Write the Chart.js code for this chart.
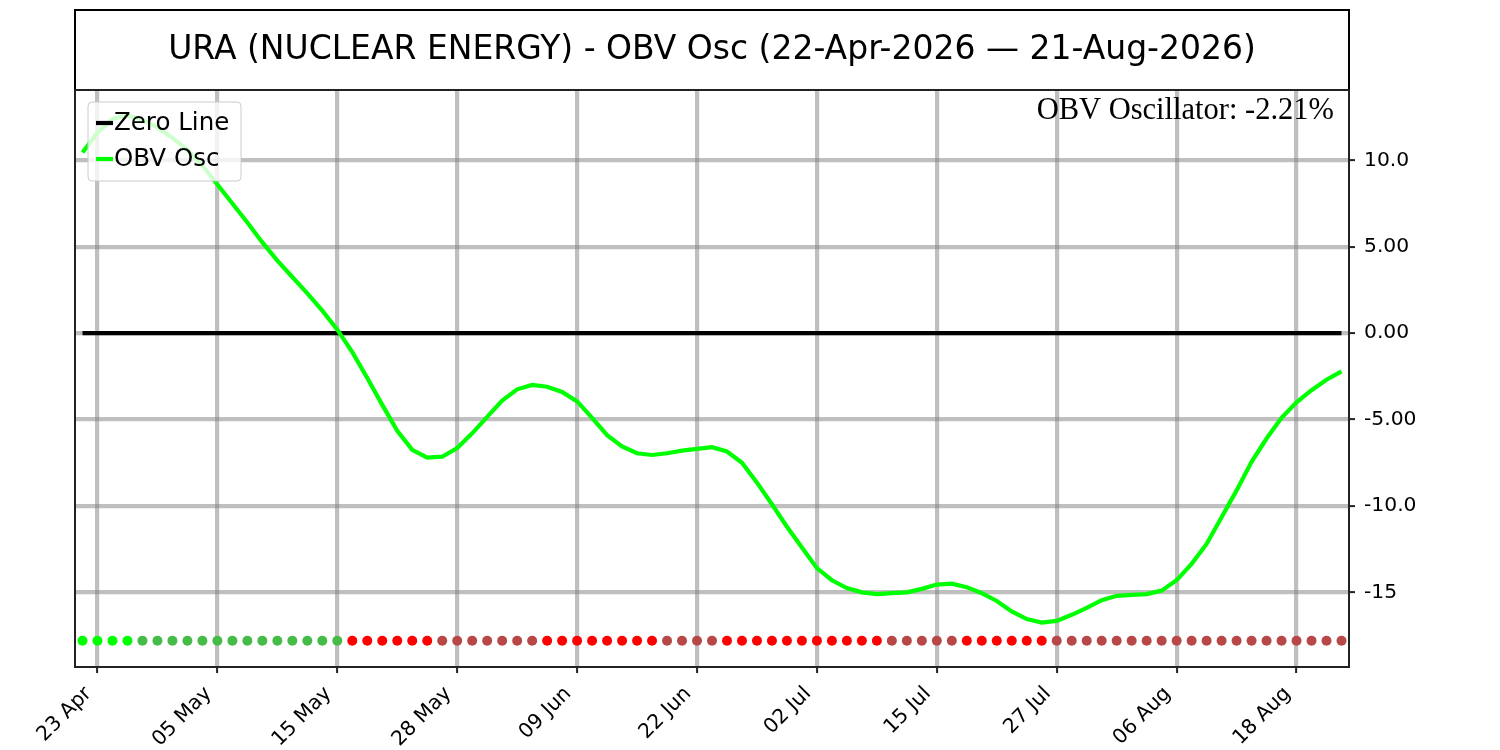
<!DOCTYPE html>
<html>
<head>
<meta charset="utf-8">
<script src="https://cdn.jsdelivr.net/npm/chart.js@4.4.1/dist/chart.umd.min.js"></script>
<style>
  html, body { margin: 0; padding: 0; background: #fff; }
  canvas { display: block; }
</style>
</head>
<body>
<canvas id="obvChart" width="1500" height="750"></canvas>
<script>
// trading days 22-Apr-2026 .. 21-Aug-2026
const dates = [
  "22 Apr", "23 Apr", "24 Apr", "27 Apr", "28 Apr", "29 Apr", "30 Apr",
  "01 May", "04 May", "05 May", "06 May", "07 May", "08 May", "11 May", "12 May", "13 May", "14 May",
  "15 May", "18 May", "19 May", "20 May", "21 May", "22 May", "26 May", "27 May", "28 May", "29 May",
  "01 Jun", "02 Jun", "03 Jun", "04 Jun", "05 Jun", "08 Jun", "09 Jun", "10 Jun", "11 Jun", "12 Jun",
  "15 Jun", "16 Jun", "17 Jun", "18 Jun", "22 Jun", "23 Jun", "24 Jun", "25 Jun", "26 Jun", "29 Jun", "30 Jun",
  "01 Jul", "02 Jul", "06 Jul", "07 Jul", "08 Jul", "09 Jul", "10 Jul", "13 Jul", "14 Jul", "15 Jul",
  "16 Jul", "17 Jul", "20 Jul", "21 Jul", "22 Jul", "23 Jul", "24 Jul", "27 Jul", "28 Jul", "29 Jul",
  "30 Jul", "31 Jul",
  "03 Aug", "04 Aug", "05 Aug", "06 Aug", "07 Aug", "10 Aug", "11 Aug", "12 Aug", "13 Aug", "14 Aug",
  "17 Aug", "18 Aug", "19 Aug", "20 Aug", "21 Aug"
];

const obvOsc = [
  10.45, 11.6, 12.4, 12.6, 12.35, 11.9, 11.3, 10.6, 9.7, 8.6,
  7.5, 6.4, 5.25, 4.2, 3.25, 2.3, 1.3, 0.2, -1.1, -2.6,
  -4.15, -5.65, -6.75, -7.2, -7.15, -6.65, -5.8, -4.85, -3.9, -3.25,
  -3.0, -3.1, -3.4, -3.95, -4.9, -5.9, -6.55, -6.95, -7.05, -6.95,
  -6.8, -6.7, -6.6, -6.85, -7.5, -8.65, -9.9, -11.2, -12.4, -13.6,
  -14.3, -14.75, -15.0, -15.1, -15.05, -15.0, -14.8, -14.55, -14.5, -14.7,
  -15.05, -15.5, -16.1, -16.55, -16.75, -16.65, -16.3, -15.9, -15.45, -15.2,
  -15.15, -15.1, -14.9, -14.3, -13.35, -12.2, -10.65, -9.1, -7.45, -6.1,
  -4.9, -4.0, -3.3, -2.7, -2.21
];

const xTickLabels = ["23 Apr", "05 May", "15 May", "28 May", "09 Jun", "22 Jun",
  "02 Jul", "15 Jul", "27 Jul", "06 Aug", "18 Aug"];
const yTickValues = [10, 5, 0, -5, -10, -15];
const yTickLabels = ["10.0", "5.00", "0.00", "-5.00", "-10.0", "-15"];

const signalLevel = -17.8; // row of momentum dots
const titleText = "URA (NUCLEAR ENERGY) - OBV Osc (22-Apr-2026 \u2014 21-Aug-2026)";
const lastValueText = "OBV Oscillator: " + obvOsc[obvOsc.length - 1].toFixed(2) + "%";

// dot colour from sign + direction of the oscillator
function signalColor(i) {
  const v = obvOsc[i];
  const rising = i === 0 || v >= obvOsc[i - 1];
  if (v >= 0) return rising ? "#00ff00" : "#47bb47";
  return rising ? "#b84848" : "#ff0000";
}

const GRID = "rgba(128,128,128,0.5)";
const FONT = "DejaVu Sans";
const LW = 4.2;

// title box, frame, legend, last value
const decorPlugin = {
  id: "decor",
  afterDraw(chart) {
    const c = chart.ctx;
    const a = chart.chartArea;
    c.save();

    // title box
    c.strokeStyle = "#000";
    c.lineWidth = 2;
    c.strokeRect(a.left, 10, a.right - a.left, a.top - 10);
    c.fillStyle = "#000";
    c.font = "33px '" + FONT + "'";
    c.textAlign = "center";
    c.textBaseline = "middle";
    c.fillText(titleText, (a.left + a.right) / 2, 50);

    // frame
    c.strokeStyle = "#222";
    c.strokeRect(a.left, a.top, a.right - a.left, a.bottom - a.top);

    // last value text
    c.font = "30.5px 'Liberation Serif'";
    c.textAlign = "right";
    c.textBaseline = "alphabetic";
    c.fillStyle = "#000";
    c.fillText(lastValueText, a.right - 15, a.top + 29);

    // legend
    const items = chart.data.datasets.filter(d => d.inLegend);
    const lx = a.left + 13, ly = a.top + 12, lw = 153, lh = 79;
    c.beginPath();
    c.roundRect(lx, ly, lw, lh, 4);
    c.fillStyle = "rgba(255,255,255,0.8)";
    c.fill();
    c.strokeStyle = "#cccccc";
    c.lineWidth = 1;
    c.stroke();
    c.font = "24.5px '" + FONT + "'";
    c.textAlign = "left";
    c.textBaseline = "middle";
    items.forEach((d, k) => {
      const y = ly + 21 + k * 36;
      c.strokeStyle = d.borderColor;
      c.lineWidth = LW;
      c.beginPath();
      c.moveTo(lx + 8, y);
      c.lineTo(lx + 25, y);
      c.stroke();
      c.fillStyle = "#000";
      c.fillText(d.label, lx + 26, y + 1);
    });
    c.restore();
  }
};

new Chart(document.getElementById("obvChart"), {
  type: "line",
  data: {
    datasets: [
      {
        label: "Zero Line",
        inLegend: true,
        data: dates.map((d, i) => ({ x: i, y: 0 })),
        borderColor: "#000000",
        borderWidth: LW,
        pointRadius: 0,
        order: 1,
      },
      {
        label: "OBV Osc",
        inLegend: true,
        data: obvOsc.map((v, i) => ({ x: i, y: v })),
        borderColor: "#00ff00",
        borderWidth: LW,
        pointRadius: 0,
        tension: 0,
        order: 0,
      },
      {
        label: "Signal",
        data: dates.map((d, i) => ({ x: i, y: signalLevel })),
        showLine: false,
        pointRadius: 5,
        pointBorderWidth: 0,
        pointBackgroundColor: dates.map((d, i) => signalColor(i)),
        order: 2,
      },
    ],
  },
  options: {
    responsive: false,
    animation: false,
    layout: { padding: { left: 75, top: 90, right: 0, bottom: 0 } },
    plugins: {
      legend: { display: false },
      tooltip: { enabled: false },
    },
    scales: {
      x: {
        type: "linear",
        min: -0.5,
        max: 84.5,
        afterBuildTicks: (axis) => {
          axis.ticks = xTickLabels.map(l => ({ value: dates.indexOf(l) }));
        },
        afterFit: (scale) => { scale.height = 83; },
        ticks: {
          callback: (v) => dates[v],
          minRotation: 45,
          maxRotation: 45,
          autoSkip: false,
          color: "#000",
          padding: 9,
          labelOffset: -9,
          font: { family: FONT, size: 20.3 },
        },
        grid: {
          color: GRID,
          lineWidth: LW,
          tickColor: "#222",
          tickWidth: 2,
          tickLength: 6,
        },
        border: { display: false },
      },
      y: {
        position: "right",
        min: -19.32,
        max: 14.07,
        afterBuildTicks: (axis) => {
          axis.ticks = yTickValues.map(v => ({ value: v }));
        },
        afterFit: (scale) => { scale.width = 151; },
        ticks: {
          callback: (v) => yTickLabels[yTickValues.indexOf(v)],
          color: "#000",
          padding: 9,
          font: { family: FONT, size: 20.3 },
        },
        grid: {
          color: GRID,
          lineWidth: LW,
          tickColor: "#222",
          tickWidth: 2,
          tickLength: 6,
        },
        border: { display: false },
      },
    },
  },
  plugins: [decorPlugin],
});
</script>
</body>
</html>
